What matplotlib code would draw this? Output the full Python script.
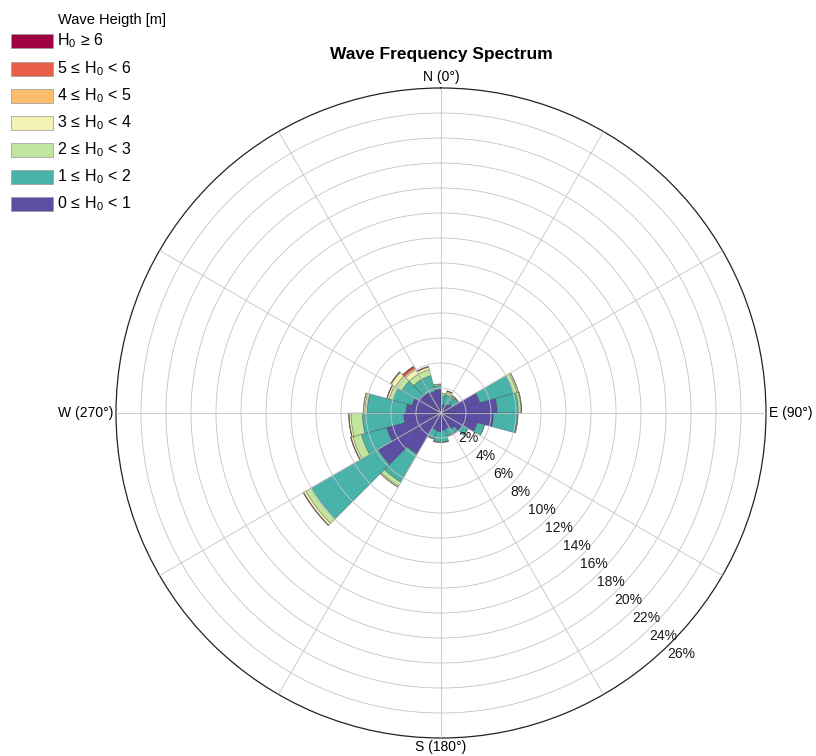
import numpy as np
import matplotlib
matplotlib.use("Agg")
import matplotlib.pyplot as plt
from matplotlib.patches import Rectangle

plt.rcParams['font.family'] = ['Liberation Sans', 'DejaVu Sans']
plt.rcParams['mathtext.fontset'] = 'custom'
plt.rcParams['mathtext.rm'] = 'Liberation Sans'
plt.rcParams['mathtext.it'] = 'Liberation Sans:italic'

# ---- data (percent frequency per direction sector, by wave-height class) ----
directions = [7.5, 22.5, 37.5, 52.5, 67.5, 82.5, 97.5, 112.5, 127.5, 142.5, 157.5, 172.5,
              187.5, 202.5, 217.5, 232.5, 247.5, 262.5, 277.5, 292.5, 307.5, 322.5, 337.5, 352.5]
sector_width = 15.0
h_0_1 = [0.6, 0.7, 0.8, 1.0, 3.2, 4.5, 4.2, 3.0, 2.0, 1.5, 1.3, 1.4,
         1.5, 1.4, 3.8, 5.8, 4.5, 3.0, 2.8, 2.4, 2.0, 1.9, 1.8, 1.9]
h_1_2 = [0.8, 0.8, 0.7, 0.6, 2.8, 1.7, 1.9, 0.6, 0.5, 0.4, 0.6, 0.9,
         0.8, 0.7, 2.6, 6.2, 2.1, 3.3, 3.1, 1.6, 1.6, 1.2, 1.3, 0.3]
h_2_3 = [0.15, 0.2, 0.1, 0.05, 0.3, 0.2, 0.05, 0.02, 0.02, 0.02, 0.02, 0.05,
         0.05, 0.05, 0.35, 0.5, 0.7, 0.9, 0.2, 0.3, 0.6, 0.5, 0.5, 0.1]
h_3_4 = [0.05, 0.1, 0.05, 0.02, 0.1, 0.05, 0.01, 0, 0, 0, 0, 0.01,
         0.01, 0.01, 0.1, 0.2, 0.15, 0.15, 0.1, 0.15, 0.4, 0.4, 0.2, 0.03]
h_4_5 = [0, 0.03, 0.02, 0, 0.02, 0.01, 0, 0, 0, 0, 0, 0,
         0, 0, 0.02, 0.03, 0.03, 0.03, 0.02, 0.03, 0.05, 0.15, 0.05, 0]
h_5_6 = [0, 0.01, 0, 0, 0, 0, 0, 0, 0, 0, 0, 0,
         0, 0, 0, 0.01, 0.01, 0.01, 0, 0.01, 0.02, 0.15, 0.02, 0]
h_6_up = [0, 0, 0, 0, 0, 0, 0, 0, 0, 0, 0, 0,
          0, 0, 0, 0, 0, 0, 0, 0, 0, 0.03, 0, 0]

class_labels = [r'$\mathregular{0\,\leq\,H_0\,<\,1}$', r'$\mathregular{1\,\leq\,H_0\,<\,2}$',
                r'$\mathregular{2\,\leq\,H_0\,<\,3}$', r'$\mathregular{3\,\leq\,H_0\,<\,4}$',
                r'$\mathregular{4\,\leq\,H_0\,<\,5}$', r'$\mathregular{5\,\leq\,H_0\,<\,6}$',
                r'$\mathregular{H_0\,\geq\,6}$']
class_colors = ['#5b4ea3', '#4ab3a9', '#c2e59e', '#f3f3b5', '#fdbb6c', '#e8604a', '#9e0142']
ring_values = [2, 4, 6, 8, 10, 12, 14, 16, 18, 20, 22, 24, 26]
dir_labels = ['N (0°)', 'E (90°)', 'S (180°)', 'W (270°)']

# ---- figure ----
W, H = 816, 756
fig = plt.figure(figsize=(W / 100, H / 100), dpi=100)
cx, cy, R = 441, 413, 325
ax = fig.add_axes([(cx - R) / W, (H - cy - R) / H, 2 * R / W, 2 * R / H], projection='polar')
ax.set_theta_zero_location('N')
ax.set_theta_direction(-1)
rmax = ring_values[-1]
ax.set_ylim(0, rmax)

classes = [h_0_1, h_1_2, h_2_3, h_3_4, h_4_5, h_5_6, h_6_up]
theta = np.deg2rad(directions)
width = np.deg2rad(sector_width)
bottom = np.zeros(len(directions))
for vals, col in zip(classes, class_colors):
    v = np.asarray(vals, dtype=float)
    m = v > 0
    ax.bar(theta[m], v[m], width=width, bottom=bottom[m], color=col,
           edgecolor=(0.15, 0.15, 0.2, 0.4), linewidth=0.5, zorder=2)
    bottom = bottom + v

# grid
ax.set_yticks(ring_values[:-1])
ax.set_yticklabels([])
ax.set_xticks(np.deg2rad(np.arange(0, 360, 30)))
ax.set_xticklabels([])
ax.grid(True, color='#c4c4c4', linewidth=0.6, zorder=3)
ax.set_axisbelow(False)
ax.spines['polar'].set_color('#222222')
ax.spines['polar'].set_linewidth(0.9)

# radial labels along 135 deg
for rv in ring_values:
    ax.text(np.deg2rad(136), rv, f'{rv}%', ha='left', va='top', fontsize=10,
            color='#1a1a1a', zorder=5)

# direction labels
fig.text(cx / W, 1 - (cy - R - 4) / H, dir_labels[0], ha='center', va='bottom', fontsize=10)
fig.text((cx + R + 3) / W, 1 - cy / H, dir_labels[1], ha='left', va='center', fontsize=10)
fig.text(cx / W, 1 - (cy + R + 2) / H, dir_labels[2], ha='center', va='top', fontsize=10)
fig.text((cx - R - 3) / W, 1 - cy / H, dir_labels[3], ha='right', va='center', fontsize=10)

fig.text(cx / W, 1 - 55 / H, 'Wave Frequency Spectrum', ha='center', va='center',
         fontsize=12.5, fontweight='bold')

# legend (top-left)
fig.text(58 / W, 1 - 20 / H, 'Wave Heigth [m]', ha='left', va='center', fontsize=10.5)
row_centers = [203.5, 177, 150, 122.5, 95.5, 68.5, 41]
for lab, col, yc in zip(class_labels, class_colors, row_centers):
    fig.patches.append(Rectangle((11 / W, 1 - (yc + 7) / H), 42 / W, 14 / H,
                                 transform=fig.transFigure, facecolor=col,
                                 edgecolor='#999999', linewidth=0.5))
    fig.text(57 / W, 1 - yc / H, lab, ha='left', va='center', fontsize=11.5)

fig.savefig('out.png', dpi=100)
